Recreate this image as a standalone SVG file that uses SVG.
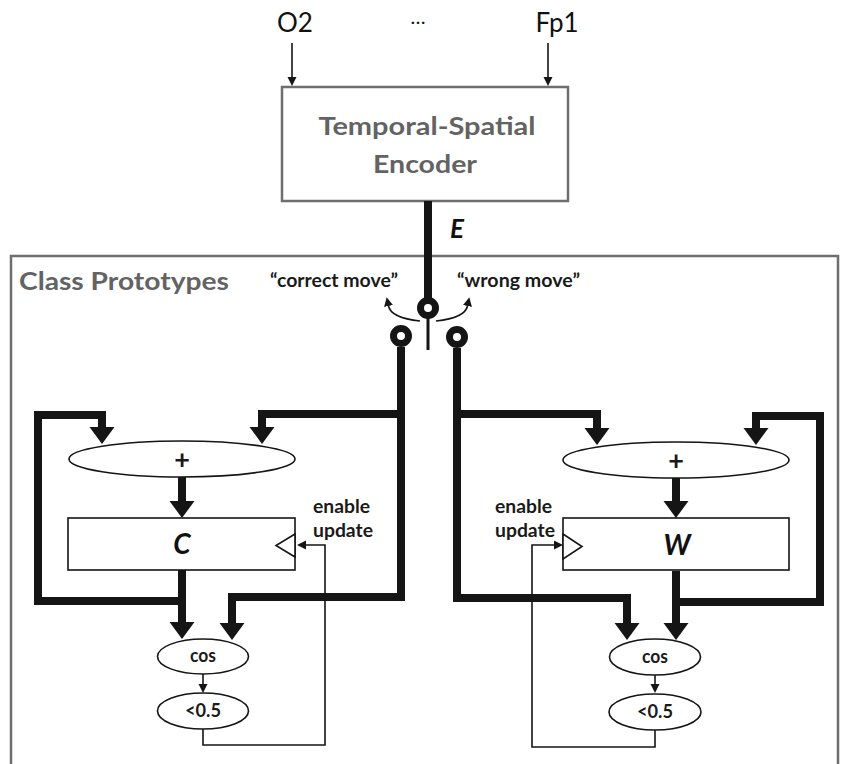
<svg xmlns="http://www.w3.org/2000/svg" width="843" height="764" viewBox="0 0 843 764">
  <style>
    text { font-family: Lato, "Liberation Sans", sans-serif; }
    .gray-title { font-weight: bold; font-size: 25px; fill: #636363; }
    .chan { font-size: 26px; fill: #111; text-anchor: middle; }
    .dots { font-size: 20px; fill: #111; text-anchor: middle; }
    .lbl { font-weight: bold; font-size: 19px; fill: #1a1a1a; }
    .op { font-weight: bold; font-size: 18px; fill: #1a1a1a; text-anchor: middle; }
    .plus { font-weight: bold; font-size: 27px; fill: #1a1a1a; text-anchor: middle; }
    .sym { font-weight: bold; font-style: italic; font-size: 28px; fill: #111; text-anchor: middle; }
    .thick { fill: none; stroke: #151515; stroke-width: 8; stroke-linejoin: miter; }
    .thin { fill: none; stroke: #151515; stroke-width: 1.6; }
    .node-shape { fill: #fff; stroke: #151515; stroke-width: 1.6; }
    .frame { fill: none; stroke: #6e6e6e; stroke-width: 2.5; }
  </style>
  <defs>
    <marker id="bigArrow" markerUnits="userSpaceOnUse" markerWidth="18" markerHeight="26" refX="0" refY="12.5" orient="auto">
      <path d="M0,0 L17,12.5 L0,25 z" fill="#151515"/>
    </marker>
    <marker id="smallArrow" markerUnits="userSpaceOnUse" markerWidth="10" markerHeight="10" refX="0" refY="4.5" orient="auto">
      <path d="M0,0 L9,4.5 L0,9 z" fill="#151515"/>
    </marker>
  </defs>

  <!-- enclosing module frame (open at the bottom) -->
  <g id="class-prototypes">
    <path class="frame" d="M11,764 V256 H838 V764"/>
    <text class="gray-title" x="19" y="290" textLength="210" lengthAdjust="spacingAndGlyphs">Class Prototypes</text>
  </g>

  <!-- EEG channel inputs -->
  <g id="inputs">
    <text class="chan" x="295" y="32">O2</text>
    <text class="dots" x="418" y="24">…</text>
    <text class="chan" x="557" y="32">Fp1</text>
  </g>

  <g id="encoder">
    <rect x="282" y="87" width="286" height="114" fill="#fff" stroke="#6e6e6e" stroke-width="2.5"/>
    <text class="gray-title" x="427" y="135" text-anchor="middle" textLength="217" lengthAdjust="spacingAndGlyphs">Temporal-Spatial</text>
    <text class="gray-title" x="425" y="173" text-anchor="middle" textLength="104" lengthAdjust="spacingAndGlyphs">Encoder</text>
  </g>

  <g id="connectors">
    <!-- channel inputs into encoder -->
    <path class="thin" d="M292,43 V77" marker-end="url(#smallArrow)"/>
    <path class="thin" d="M548,43 V77" marker-end="url(#smallArrow)"/>

    <!-- embedding E down to the switch -->
    <path class="thick" d="M428,201 V300"/>

    <!-- switch selector directions -->
    <path class="thin" d="M420,321 Q391,318 388.5,306" marker-end="url(#smallArrow)"/>
    <path class="thin" d="M436,321 Q465,318 467.5,306" marker-end="url(#smallArrow)"/>
    <path d="M428,318 V350" stroke="#151515" stroke-width="3" fill="none"/>

    <!-- left branch: correct-move path -->
    <path class="thick" d="M401,347 V597 H232 V623" marker-end="url(#bigArrow)"/>
    <path class="thick" d="M401,414 H262 V427" marker-end="url(#bigArrow)"/>
    <path class="thick" d="M182,570 V622" marker-end="url(#bigArrow)"/>
    <path class="thick" d="M182,601 H38 V415 H102 V427" marker-end="url(#bigArrow)"/>
    <path class="thick" d="M182,477 V501" marker-end="url(#bigArrow)"/>
    <path class="thin" d="M203,674 V684" marker-end="url(#smallArrow)"/>
    <path class="thin" d="M203,729 V745 H325 V545 H306" marker-end="url(#smallArrow)"/>

    <!-- right branch: wrong-move path -->
    <path class="thick" d="M457,348 V598 H627 V623" marker-end="url(#bigArrow)"/>
    <path class="thick" d="M457,414 H597 V428" marker-end="url(#bigArrow)"/>
    <path class="thick" d="M676,571 V623" marker-end="url(#bigArrow)"/>
    <path class="thick" d="M676,602 H820 V416 H756 V428" marker-end="url(#bigArrow)"/>
    <path class="thick" d="M676,478 V501" marker-end="url(#bigArrow)"/>
    <path class="thin" d="M655,675 V684" marker-end="url(#smallArrow)"/>
    <path class="thin" d="M655,730 V747 H532 V545 H554" marker-end="url(#smallArrow)"/>
  </g>

  <!-- switch contacts -->
  <g id="switch">
    <circle cx="428" cy="308" r="7.5" fill="#fff" stroke="#151515" stroke-width="7"/>
    <circle cx="401" cy="336" r="7.5" fill="#fff" stroke="#151515" stroke-width="7"/>
    <circle cx="457" cy="337" r="7.5" fill="#fff" stroke="#151515" stroke-width="7"/>
    <text x="450" y="238" class="sym" style="font-size:26px; text-anchor:start">E</text>
    <text class="lbl" x="270" y="287" textLength="128" lengthAdjust="spacingAndGlyphs">“correct move”</text>
    <text class="lbl" x="457" y="287" textLength="123" lengthAdjust="spacingAndGlyphs">“wrong move”</text>
  </g>

  <!-- correct-move prototype chain -->
  <g id="sum-c">
    <ellipse class="node-shape" cx="182" cy="459" rx="113" ry="18"/>
    <text class="plus" x="182" y="469">+</text>
  </g>
  <g id="proto-c">
    <rect class="node-shape" x="68" y="518" width="227" height="52"/>
    <polygon class="node-shape" points="295,534 276,545.5 295,557"/>
    <text class="sym" x="182" y="554">C</text>
  </g>
  <g id="enable-c">
    <text class="lbl" x="313" y="513" textLength="57" lengthAdjust="spacingAndGlyphs">enable</text>
    <text class="lbl" x="313" y="537" textLength="60" lengthAdjust="spacingAndGlyphs">update</text>
  </g>
  <g id="cos-c">
    <ellipse class="node-shape" cx="203" cy="656.5" rx="45.5" ry="17.5"/>
    <text class="op" x="203" y="662" textLength="26" lengthAdjust="spacingAndGlyphs">cos</text>
  </g>
  <g id="thresh-c">
    <ellipse class="node-shape" cx="203" cy="711" rx="45.5" ry="18"/>
    <text class="op" x="203" y="717" textLength="36" lengthAdjust="spacingAndGlyphs">&lt;0.5</text>
  </g>

  <!-- wrong-move prototype chain -->
  <g id="sum-w">
    <ellipse class="node-shape" cx="676" cy="460" rx="113" ry="18"/>
    <text class="plus" x="676" y="470">+</text>
  </g>
  <g id="proto-w">
    <rect class="node-shape" x="563" y="518" width="226" height="52"/>
    <polygon class="node-shape" points="563,534 582,546.5 563,559"/>
    <text class="sym" x="677" y="555">W</text>
  </g>
  <g id="enable-w">
    <text class="lbl" x="495" y="513" textLength="57" lengthAdjust="spacingAndGlyphs">enable</text>
    <text class="lbl" x="495" y="537" textLength="60" lengthAdjust="spacingAndGlyphs">update</text>
  </g>
  <g id="cos-w">
    <ellipse class="node-shape" cx="655" cy="657" rx="45.5" ry="18"/>
    <text class="op" x="655" y="663" textLength="26" lengthAdjust="spacingAndGlyphs">cos</text>
  </g>
  <g id="thresh-w">
    <ellipse class="node-shape" cx="655" cy="712" rx="46" ry="18"/>
    <text class="op" x="655" y="718" textLength="36" lengthAdjust="spacingAndGlyphs">&lt;0.5</text>
  </g>
</svg>
